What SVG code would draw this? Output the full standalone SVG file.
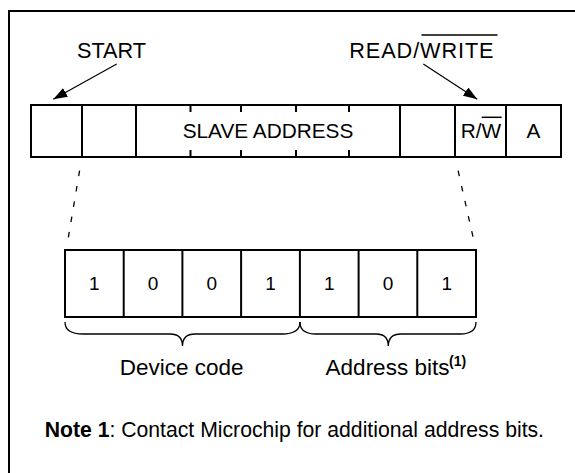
<svg xmlns="http://www.w3.org/2000/svg" width="575" height="473" viewBox="0 0 575 473">
<style>
  .box{fill:#fff;stroke:#000;stroke-width:2}
  .tk{stroke:#000;stroke-width:2;fill:none}
  .dash{stroke:#000;stroke-width:1.3;stroke-dasharray:5.6 9.9;fill:none}
  .arr{stroke:#000;stroke-width:1.2;fill:none;marker-end:url(#ah)}
  .brace{stroke:#000;stroke-width:1.3;fill:none}
  .ov{stroke:#000;stroke-width:1.5}
  text{font-family:"Liberation Sans",Arial,sans-serif;fill:#000}
  .lab{font-size:21.7px}
  .cell{font-size:20.8px;text-anchor:middle}
  .dig{font-size:19px;text-anchor:middle}
  .cap{font-size:22.5px;text-anchor:middle}
  .note{font-size:21.2px}
</style>
<defs>
  <marker id="ah" viewBox="0 0 14 10" refX="14" refY="5" markerWidth="14" markerHeight="10" markerUnits="userSpaceOnUse" orient="auto">
    <path d="M0,0 L14,5 L0,10 Z" fill="#000"/>
  </marker>
</defs>
<rect width="575" height="473" fill="#fff"/>
<g id="frame">
  <rect x="9" y="11" width="600" height="500" fill="none" stroke="#000" stroke-width="2"/>
</g>
<g id="start-label">
  <text class="lab" x="77" y="58.3">START</text>
</g>
<g id="rw-label">
  <text class="lab" x="349.3" y="58.3" font-size="22" letter-spacing="0.9">READ/WRITE</text>
  <line class="ov" x1="421.5" y1="35" x2="497.5" y2="35"/>
</g>
<g id="top-register">
  <rect class="box" x="31" y="105" width="530" height="52"/>
  <line class="tk" x1="82" y1="105" x2="82" y2="157"/>
  <line class="tk" x1="136" y1="105" x2="136" y2="157"/>
  <line class="tk" x1="400" y1="105" x2="400" y2="157"/>
  <line class="tk" x1="455" y1="105" x2="455" y2="157"/>
  <line class="tk" x1="506" y1="105" x2="506" y2="157"/>
  <path class="tk" d="M190.5,105v7M241,105v7M296,105v7M349,105v7M190.5,157v-7M241,157v-7M296,157v-7M349,157v-7"/>
  <text class="cell" x="268" y="138.3">SLAVE ADDRESS</text>
  <text class="cell" x="481" y="138.3">R/W</text>
  <line class="ov" x1="481.7" y1="117.3" x2="501.7" y2="117.3"/>
  <text class="cell" x="533.5" y="138.3">A</text>
</g>
<g id="bottom-register">
  <rect class="box" x="65" y="250" width="411" height="67"/>
  <line class="tk" x1="123.7" y1="250" x2="123.7" y2="317"/>
  <line class="tk" x1="182.4" y1="250" x2="182.4" y2="317"/>
  <line class="tk" x1="241.1" y1="250" x2="241.1" y2="317"/>
  <line class="tk" x1="299.9" y1="250" x2="299.9" y2="317"/>
  <line class="tk" x1="358.6" y1="250" x2="358.6" y2="317"/>
  <line class="tk" x1="417.3" y1="250" x2="417.3" y2="317"/>
  <text class="dig" x="94.4" y="290">1</text>
  <text class="dig" x="153" y="290">0</text>
  <text class="dig" x="211.8" y="290">0</text>
  <text class="dig" x="270.5" y="290">1</text>
  <text class="dig" x="329.3" y="290">1</text>
  <text class="dig" x="388" y="290">0</text>
  <text class="dig" x="446.7" y="290">1</text>
</g>
<g id="device-code">
  <path class="brace" d="M65,322 C65,330 70,334 83,334 L170,334 C178,334 182.5,338 182.5,346 C182.5,338 187,334 195,334 L282,334 C295,334 300,330 300,322"/>
  <text class="cap" x="181.7" y="375">Device code</text>
</g>
<g id="address-bits">
  <path class="brace" d="M300,322 C300,330 305,334 316,334 L376,334 C384,334 388.3,338 388.3,346 C388.3,338 393,334 401,334 L460,334 C471,334 476,330 476,322"/>
  <text class="cap" x="387.5" y="375">Address bits</text>
  <text x="449" y="366" font-size="14" font-weight="bold">(1)</text>
</g>
<g id="note">
  <text class="note" x="44.7" y="436.5"><tspan font-weight="bold">Note 1</tspan>: Contact Microchip for additional address bits.</text>
</g>
<g id="connectors">
  <line class="arr" x1="116.7" y1="64" x2="53.3" y2="99.3"/>
  <line class="arr" x1="423.3" y1="64" x2="477.3" y2="99.3"/>
  <line class="dash" x1="79.6" y1="170.7" x2="67.9" y2="240"/>
  <line class="dash" x1="458.1" y1="170.7" x2="473.7" y2="240"/>
</g>
</svg>
